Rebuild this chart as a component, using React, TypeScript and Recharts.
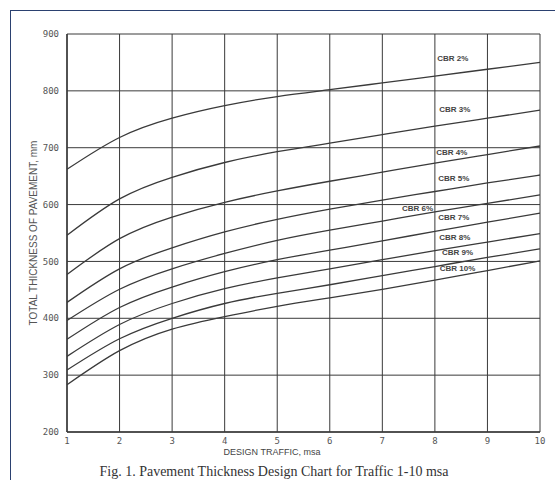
import { CartesianGrid, Line, LineChart, ReferenceDot, XAxis, YAxis } from "recharts";

const traffic = [1, 2, 3, 4, 5, 6, 7, 8, 9, 10];
const cbr2 = [662, 718, 752, 774, 790, 802, 814, 826, 838, 850];
const cbr3 = [546, 610, 648, 674, 693, 708, 723, 738, 752, 766];
const cbr4 = [477, 540, 578, 604, 624, 641, 657, 673, 688, 703];
const cbr5 = [428, 487, 524, 552, 574, 592, 608, 623, 638, 652];
const cbr6 = [396, 451, 487, 514, 537, 555, 571, 587, 602, 617];
const cbr7 = [363, 419, 455, 482, 503, 520, 536, 553, 569, 585];
const cbr8 = [333, 389, 426, 452, 471, 487, 503, 519, 534, 549];
const cbr9 = [309, 364, 400, 426, 444, 459, 475, 491, 507, 522];
const cbr10 = [283, 343, 381, 403, 421, 436, 451, 467, 484, 501];
const seriesNames = ["CBR 2%", "CBR 3%", "CBR 4%", "CBR 5%", "CBR 6%", "CBR 7%", "CBR 8%", "CBR 9%", "CBR 10%"];
const allSeries = [cbr2, cbr3, cbr4, cbr5, cbr6, cbr7, cbr8, cbr9, cbr10];
const yTicks = [200, 300, 400, 500, 600, 700, 800, 900];

// where each curve label sits, in chart units
const labelSpots: [number, number][] = [
  [8.34, 858], [8.38, 768], [8.32, 692], [8.36, 647], [7.67, 594],
  [8.36, 578], [8.38, 543], [8.43, 517], [8.43, 488],
];

const data = traffic.map((t, i) => {
  const row: Record<string, number> = { t };
  seriesNames.forEach((name, k) => {
    row[name] = allSeries[k][i];
  });
  return row;
});

const ink = "#3a3a3a";
const tickStyle = { fontSize: 9, fill: "#555", fontFamily: "'DejaVu Sans Mono', monospace" };

export default function App() {
  return (
    <div style={{ position: "absolute", left: 0, top: 0, width: 555, height: 480, background: "#fff", overflow: "hidden" }}>
      <div
        style={{
          position: "absolute",
          left: 10,
          top: 10,
          width: 560,
          height: 480,
          borderLeft: "1.5px solid #2b4170",
          borderTop: "1.5px solid #2b4170",
        }}
      />
      <LineChart
        width={555}
        height={480}
        data={data}
        margin={{ top: 34, right: 15, bottom: 28, left: 37 }}
        style={{ position: "absolute", left: 0, top: 0, fontFamily: "'Liberation Sans', Arial, sans-serif" }}
      >
        <CartesianGrid stroke={ink} strokeWidth={1} vertical horizontal />
        <XAxis
          dataKey="t"
          type="number"
          domain={[1, 10]}
          ticks={traffic}
          height={20}
          tickLine={false}
          axisLine={{ stroke: ink, strokeWidth: 1.5 }}
          tick={tickStyle}
          tickMargin={0}
          interval={0}
        />
        <YAxis
          type="number"
          domain={[200, 900]}
          ticks={yTicks}
          width={30}
          tickLine={false}
          axisLine={{ stroke: ink, strokeWidth: 1.5 }}
          tick={tickStyle}
          tickMargin={2}
          interval={0}
        />
        {seriesNames.map((name) => (
          <Line
            key={name}
            dataKey={name}
            type="natural"
            stroke={ink}
            strokeWidth={1.3}
            dot={false}
            activeDot={false}
            isAnimationActive={false}
          />
        ))}
        {seriesNames.map((name, k) => (
          <ReferenceDot
            key={"l" + name}
            x={labelSpots[k][0]}
            y={labelSpots[k][1]}
            r={1}
            fill="none"
            stroke="none"
            label={{ value: name, position: "center", fontSize: 8, fontWeight: 700, fill: "#444" }}
          />
        ))}
      </LineChart>
      <div
        style={{
          position: "absolute",
          left: 33,
          top: 233,
          transform: "translate(-50%, -50%) rotate(-90deg)",
          whiteSpace: "nowrap",
          fontFamily: "'Liberation Sans', Arial, sans-serif",
          fontSize: 10,
          color: "#555",
        }}
      >
        TOTAL THICKNESS OF PAVEMENT, mm
      </div>
      <div
        style={{
          position: "absolute",
          left: 272,
          top: 452,
          transform: "translate(-50%, -50%)",
          whiteSpace: "nowrap",
          fontFamily: "'Liberation Sans', Arial, sans-serif",
          fontSize: 9,
          lineHeight: "10px",
          color: "#444",
        }}
      >
        DESIGN TRAFFIC, msa
      </div>
      <div
        style={{
          position: "absolute",
          left: 274,
          top: 472,
          transform: "translate(-50%, -50%)",
          whiteSpace: "nowrap",
          fontFamily: "'Liberation Serif', 'Times New Roman', serif",
          fontSize: 14,
          color: "#333",
        }}
      >
        Fig. 1. Pavement Thickness Design Chart for Traffic 1-10 msa
      </div>
    </div>
  );
}
